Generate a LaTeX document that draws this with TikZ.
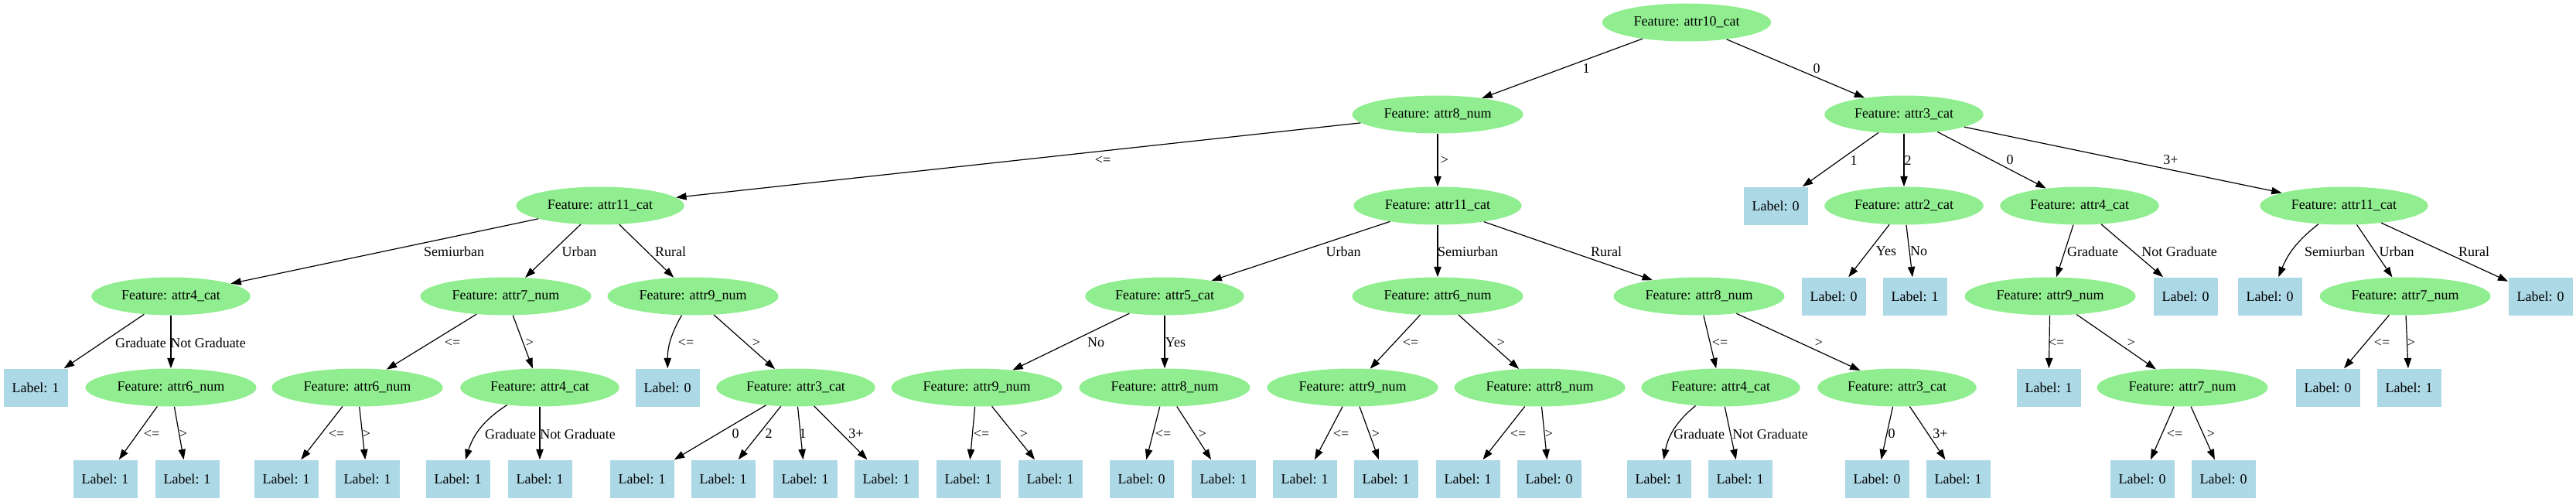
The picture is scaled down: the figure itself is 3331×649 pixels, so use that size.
\documentclass[tikz,border=0pt]{standalone}
\usepackage{fontspec}
\setmainfont{Liberation Serif}
\usetikzlibrary{shapes.geometric,arrows.meta}
\definecolor{featgreen}{HTML}{90EE90}
\definecolor{leafblue}{HTML}{ADD8E6}

\begin{document}
\begin{tikzpicture}[x=0.75pt, y=-0.75pt,
    every node/.style={font=\fontsize{13.5}{16}\selectfont},
    feat/.style={ellipse, fill=featgreen, inner xsep=6.5pt, inner ysep=0pt, minimum height=36.75pt},
    leaf/.style={rectangle, fill=leafblue, minimum width=62.25pt, minimum height=36.75pt, inner sep=0pt},
    branch/.style={line width=0.9pt, -{Triangle[length=10pt,width=7pt]}},
    lbl/.style={inner sep=0pt}]
    \useasboundingbox (0,0) rectangle (3331,649);

    % rank 1 and 2
    \node[feat] (n0) at (2181, 29) {Feature: attr10\_cat};
    \node[feat] (n1) at (1859, 148) {Feature: attr8\_num};
    \node[feat] (n2) at (2462, 148) {Feature: attr3\_cat};

    % rank 3
    \node[feat] (n3) at (776, 266) {Feature: attr11\_cat};
    \node[feat] (n4) at (1859, 266) {Feature: attr11\_cat};
    \node[leaf] (l1) at (2296, 266) {Label: 0};
    \node[feat] (n5) at (2462, 266) {Feature: attr2\_cat};
    \node[feat] (n6) at (2689, 266) {Feature: attr4\_cat};
    \node[feat] (n7) at (3031, 266) {Feature: attr11\_cat};

    % rank 4
    \node[feat] (n8) at (221, 383) {Feature: attr4\_cat};
    \node[feat] (n9) at (654, 383) {Feature: attr7\_num};
    \node[feat] (n10) at (896, 383) {Feature: attr9\_num};
    \node[feat] (n11) at (1506, 383) {Feature: attr5\_cat};
    \node[feat] (n12) at (1859, 383) {Feature: attr6\_num};
    \node[feat] (n13) at (2197, 383) {Feature: attr8\_num};
    \node[leaf] (l2) at (2371, 383) {Label: 0};
    \node[leaf] (l3) at (2476, 383) {Label: 1};
    \node[feat] (n14) at (2651, 383) {Feature: attr9\_num};
    \node[leaf] (l4) at (2826, 383) {Label: 0};
    \node[leaf] (l5) at (2935, 383) {Label: 0};
    \node[feat] (n15) at (3110, 383) {Feature: attr7\_num};
    \node[leaf] (l6) at (3285, 383) {Label: 0};

    % rank 5
    \node[leaf] (l7) at (46, 501) {Label: 1};
    \node[feat] (n16) at (221, 501) {Feature: attr6\_num};
    \node[feat] (n17) at (462, 501) {Feature: attr6\_num};
    \node[feat] (n18) at (698, 501) {Feature: attr4\_cat};
    \node[leaf] (l8) at (863, 501) {Label: 0};
    \node[feat] (n19) at (1029, 501) {Feature: attr3\_cat};
    \node[feat] (n20) at (1263, 501) {Feature: attr9\_num};
    \node[feat] (n21) at (1506, 501) {Feature: attr8\_num};
    \node[feat] (n22) at (1749, 501) {Feature: attr9\_num};
    \node[feat] (n23) at (1991, 501) {Feature: attr8\_num};
    \node[feat] (n24) at (2225, 501) {Feature: attr4\_cat};
    \node[feat] (n25) at (2453, 501) {Feature: attr3\_cat};
    \node[leaf] (l9) at (2649, 501) {Label: 1};
    \node[feat] (n26) at (2822, 501) {Feature: attr7\_num};
    \node[leaf] (l10) at (3010, 501) {Label: 0};
    \node[leaf] (l11) at (3115, 501) {Label: 1};

    % rank 6
    \node[leaf] (l12) at (136, 619) {Label: 1};
    \node[leaf] (l13) at (242, 619) {Label: 1};
    \node[leaf] (l14) at (370, 619) {Label: 1};
    \node[leaf] (l15) at (475, 619) {Label: 1};
    \node[leaf] (l16) at (592, 619) {Label: 1};
    \node[leaf] (l17) at (698, 619) {Label: 1};
    \node[leaf] (l18) at (830, 619) {Label: 1};
    \node[leaf] (l19) at (935, 619) {Label: 1};
    \node[leaf] (l20) at (1041, 619) {Label: 1};
    \node[leaf] (l21) at (1146, 619) {Label: 1};
    \node[leaf] (l22) at (1252, 619) {Label: 1};
    \node[leaf] (l23) at (1358, 619) {Label: 1};
    \node[leaf] (l24) at (1476, 619) {Label: 0};
    \node[leaf] (l25) at (1582, 619) {Label: 1};
    \node[leaf] (l26) at (1687, 619) {Label: 1};
    \node[leaf] (l27) at (1792, 619) {Label: 1};
    \node[leaf] (l28) at (1898, 619) {Label: 1};
    \node[leaf] (l29) at (2003, 619) {Label: 0};
    \node[leaf] (l30) at (2145, 619) {Label: 1};
    \node[leaf] (l31) at (2250, 619) {Label: 1};
    \node[leaf] (l32) at (2427, 619) {Label: 0};
    \node[leaf] (l33) at (2532, 619) {Label: 1};
    \node[leaf] (l34) at (2770, 619) {Label: 0};
    \node[leaf] (l35) at (2875, 619) {Label: 0};

    % branches from the root side
    \draw[branch] (n0) -- (n1) node[lbl] at (2051, 89) {1};
    \draw[branch] (n0) -- (n2) node[lbl] at (2349, 89) {0};
    \draw[branch] (n1) -- (n3) node[lbl] at (1426, 207) {<=};
    \draw[branch] (n1) -- (n4) node[lbl] at (1868, 207) {>};
    \draw[branch] (n2) -- (l1) node[lbl] at (2397, 208) {1};
    \draw[branch] (n2) -- (n5) node[lbl] at (2467, 208) {2};
    \draw[branch] (n2) -- (n6) node[lbl] at (2599, 207) {0};
    \draw[branch] (n2) -- (n7) node[lbl] at (2807, 207) {3+};

    \draw[branch] (n3) -- (n8) node[lbl] at (587, 325) {Semiurban};
    \draw[branch] (n3) -- (n9) node[lbl] at (749, 325) {Urban};
    \draw[branch] (n3) -- (n10) node[lbl] at (867, 325) {Rural};
    \draw[branch] (n4) -- (n11) node[lbl] at (1737, 325) {Urban};
    \draw[branch] (n4) -- (n12) node[lbl] at (1898, 325) {Semiurban};
    \draw[branch] (n4) -- (n13) node[lbl] at (2077, 325) {Rural};
    \draw[branch] (n5) -- (l2) node[lbl] at (2439, 325) {Yes};
    \draw[branch] (n5) -- (l3) node[lbl] at (2481, 325) {No};
    \draw[branch] (n6) -- (n14) node[lbl] at (2706, 325) {Graduate};
    \draw[branch] (n6) -- (l4) node[lbl] at (2818, 325) {Not Graduate};
    \draw[branch] (n7) to[bend right=15] (l5) node[lbl] at (3019, 325) {Semiurban};
    \draw[branch] (n7) -- (n15) node[lbl] at (3099, 325) {Urban};
    \draw[branch] (n7) -- (l6) node[lbl] at (3199, 325) {Rural};

    \draw[branch] (n8) -- (l7) node[lbl] at (182, 443) {Graduate};
    \draw[branch] (n8) -- (n16) node[lbl] at (269, 443) {Not Graduate};
    \draw[branch] (n9) -- (n17) node[lbl] at (585, 443) {<=};
    \draw[branch] (n9) -- (n18) node[lbl] at (685, 443) {>};
    \draw[branch] (n10) to[bend right=15] (l8) node[lbl] at (887, 443) {<=};
    \draw[branch] (n10) -- (n19) node[lbl] at (978, 443) {>};
    \draw[branch] (n11) -- (n20) node[lbl] at (1417, 443) {No};
    \draw[branch] (n11) -- (n21) node[lbl] at (1520, 443) {Yes};
    \draw[branch] (n12) -- (n22) node[lbl] at (1824, 443) {<=};
    \draw[branch] (n12) -- (n23) node[lbl] at (1941, 443) {>};
    \draw[branch] (n13) -- (n24) node[lbl] at (2224, 443) {<=};
    \draw[branch] (n13) -- (n25) node[lbl] at (2352, 443) {>};
    \draw[branch] (n14) -- (l9) node[lbl] at (2659, 443) {<=};
    \draw[branch] (n14) -- (n26) node[lbl] at (2756, 443) {>};
    \draw[branch] (n15) -- (l10) node[lbl] at (3080, 443) {<=};
    \draw[branch] (n15) -- (l11) node[lbl] at (3118, 443) {>};

    % branches down to the last rank
    \draw[branch] (n16) -- (l12) node[lbl] at (196, 561) {<=};
    \draw[branch] (n16) -- (l13) node[lbl] at (237, 561) {>};
    \draw[branch] (n17) -- (l14) node[lbl] at (435, 561) {<=};
    \draw[branch] (n17) -- (l15) node[lbl] at (474, 561) {>};
    \draw[branch] (n18) to[bend right=20] (l16) node[lbl] at (660, 561) {Graduate};
    \draw[branch] (n18) -- (l17) node[lbl] at (747, 561) {Not Graduate};
    \draw[branch] (n19) -- (l18) node[lbl] at (951, 561) {0};
    \draw[branch] (n19) -- (l19) node[lbl] at (994, 561) {2};
    \draw[branch] (n19) -- (l20) node[lbl] at (1038, 561) {1};
    \draw[branch] (n19) -- (l21) node[lbl] at (1107, 561) {3+};
    \draw[branch] (n20) -- (l22) node[lbl] at (1269, 561) {<=};
    \draw[branch] (n20) -- (l23) node[lbl] at (1324, 561) {>};
    \draw[branch] (n21) -- (l24) node[lbl] at (1504, 561) {<=};
    \draw[branch] (n21) -- (l25) node[lbl] at (1555, 561) {>};
    \draw[branch] (n22) -- (l26) node[lbl] at (1734, 561) {<=};
    \draw[branch] (n22) -- (l27) node[lbl] at (1779, 561) {>};
    \draw[branch] (n23) -- (l28) node[lbl] at (1963, 561) {<=};
    \draw[branch] (n23) -- (l29) node[lbl] at (2003, 561) {>};
    \draw[branch] (n24) to[bend right=20] (l30) node[lbl] at (2197, 561) {Graduate};
    \draw[branch] (n24) -- (l31) node[lbl] at (2289, 561) {Not Graduate};
    \draw[branch] (n25) -- (l32) node[lbl] at (2446, 561) {0};
    \draw[branch] (n25) -- (l33) node[lbl] at (2509, 561) {3+};
    \draw[branch] (n26) -- (l34) node[lbl] at (2812, 561) {<=};
    \draw[branch] (n26) -- (l35) node[lbl] at (2859, 561) {>};
\end{tikzpicture}
\end{document}
